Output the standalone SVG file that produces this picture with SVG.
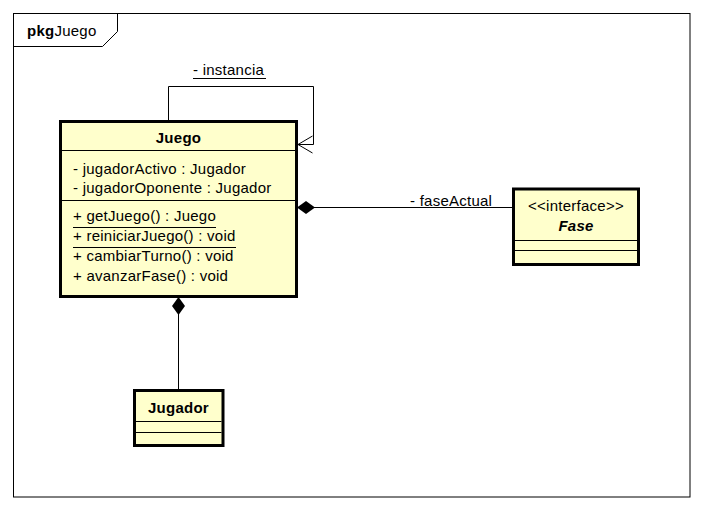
<svg xmlns="http://www.w3.org/2000/svg" width="704" height="510" viewBox="0 0 704 510">
  <style>
    text { font-family: "Liberation Sans", Arial, sans-serif; font-size: 15px; fill: #000; letter-spacing: 0.25px; }
    .b { font-weight: bold; }
    .bi { font-weight: bold; font-style: italic; }
    .mid { text-anchor: middle; }
    .cls { fill: #FFFFCC; stroke: #000; stroke-width: 3; }
    .sep { stroke: #000; stroke-width: 1; fill: none; }
    .ln { stroke: #000; stroke-width: 1; fill: none; }
    .ul { stroke: #000; stroke-width: 1; }
  </style>
  <defs>
    <marker id="diamond" viewBox="0 0 18 14" refX="0" refY="7" markerWidth="18" markerHeight="14" markerUnits="userSpaceOnUse" orient="auto">
      <path d="M0,7 L9,0.5 L18,7 L9,13.5 Z" fill="#000"/>
    </marker>
  </defs>
  <rect width="704" height="510" fill="#fff"/>

  <!-- package frame -->
  <g id="frame">
    <rect x="13.5" y="13.5" width="676.5" height="483.5" fill="none" stroke="#000" stroke-width="1"/>
    <path d="M13.5,46.5 H102.5 L117.5,31.5 V13.5" fill="none" stroke="#000" stroke-width="1"/>
    <text x="27" y="36"><tspan class="b">pkg</tspan><tspan>Juego</tspan></text>
  </g>

  <!-- connectors -->
  <g id="connectors">
    <path class="ln" d="M168.5,121 V86.5 H313.5 V144.5 H298"/>
    <path class="ln" d="M312.5,136 L298,144.5 L312.5,153"/>
    <text x="193" y="75">- instancia</text>
    <line class="ul" x1="193" y1="78.5" x2="266" y2="78.5"/>

    <line class="ln" x1="297" y1="207.5" x2="512" y2="207.5" marker-start="url(#diamond)"/>
    <text x="410" y="206">- faseActual</text>

    <line class="ln" x1="178.5" y1="297" x2="178.5" y2="389" marker-start="url(#diamond)"/>
  </g>

  <!-- class Juego -->
  <g id="Juego">
    <rect class="cls" x="60.5" y="121.5" width="236" height="175"/>
    <text class="b mid" x="178.5" y="143">Juego</text>
    <line class="sep" x1="62" y1="150.5" x2="295" y2="150.5"/>
    <text x="73" y="174">- jugadorActivo : Jugador</text>
    <text x="73" y="193">- jugadorOponente : Jugador</text>
    <line class="sep" x1="62" y1="200.5" x2="295" y2="200.5"/>
    <text x="73" y="221">+ getJuego() : Juego</text>
    <line class="ul" x1="73" y1="227.5" x2="216" y2="227.5"/>
    <text x="73" y="241">+ reiniciarJuego() : void</text>
    <line class="ul" x1="73" y1="247.5" x2="236" y2="247.5"/>
    <text x="73" y="261">+ cambiarTurno() : void</text>
    <text x="73" y="281">+ avanzarFase() : void</text>
  </g>

  <!-- interface Fase -->
  <g id="Fase">
    <rect class="cls" x="513.5" y="189" width="125" height="75.5"/>
    <text class="mid" x="576" y="211">&lt;&lt;interface&gt;&gt;</text>
    <text class="bi mid" x="576" y="231">Fase</text>
    <line class="sep" x1="515" y1="240.5" x2="637" y2="240.5"/>
    <line class="sep" x1="515" y1="250.5" x2="637" y2="250.5"/>
  </g>

  <!-- class Jugador -->
  <g id="Jugador">
    <rect class="cls" x="134.5" y="390.5" width="88.5" height="55"/>
    <text class="b mid" x="178.5" y="413">Jugador</text>
    <line class="sep" x1="136" y1="421.5" x2="221.5" y2="421.5"/>
    <line class="sep" x1="136" y1="432.5" x2="221.5" y2="432.5"/>
  </g>
</svg>
